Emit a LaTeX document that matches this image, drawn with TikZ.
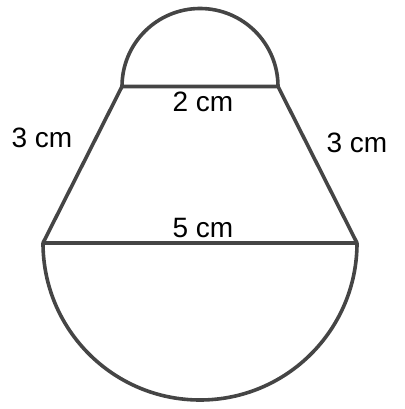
\documentclass[tikz,border=0pt]{standalone}
\usepackage{fontspec}
\setmainfont{Liberation Sans}
\definecolor{edge}{HTML}{454545}
\begin{document}
\begin{tikzpicture}[x=1pt,y=1pt,
  outline/.style={draw=edge,line width=3.6pt,line join=round},
  lbl/.style={font=\fontsize{28}{32}\selectfont,text=black,inner sep=0pt}]
\useasboundingbox (0,0) rectangle (404,409);
\coordinate (TL) at (122,322.5);
\coordinate (TR) at (278,322.5);
\coordinate (BL) at (43,166);
\coordinate (BR) at (357,166);
\draw[outline] (TL) -- (TR) -- (BR) -- (BL) -- cycle;
\draw[outline] (TR) arc[start angle=0,end angle=180,radius=78];
\draw[outline] (BR) arc[start angle=0,end angle=-180,radius=157];
\node[lbl] (top) at (203,307) {2 cm};
\node[lbl] (left) at (42,271) {3 cm};
\node[lbl] (right) at (357,266) {3 cm};
\node[lbl] (bottom) at (203,181) {5 cm};
\end{tikzpicture}
\end{document}
